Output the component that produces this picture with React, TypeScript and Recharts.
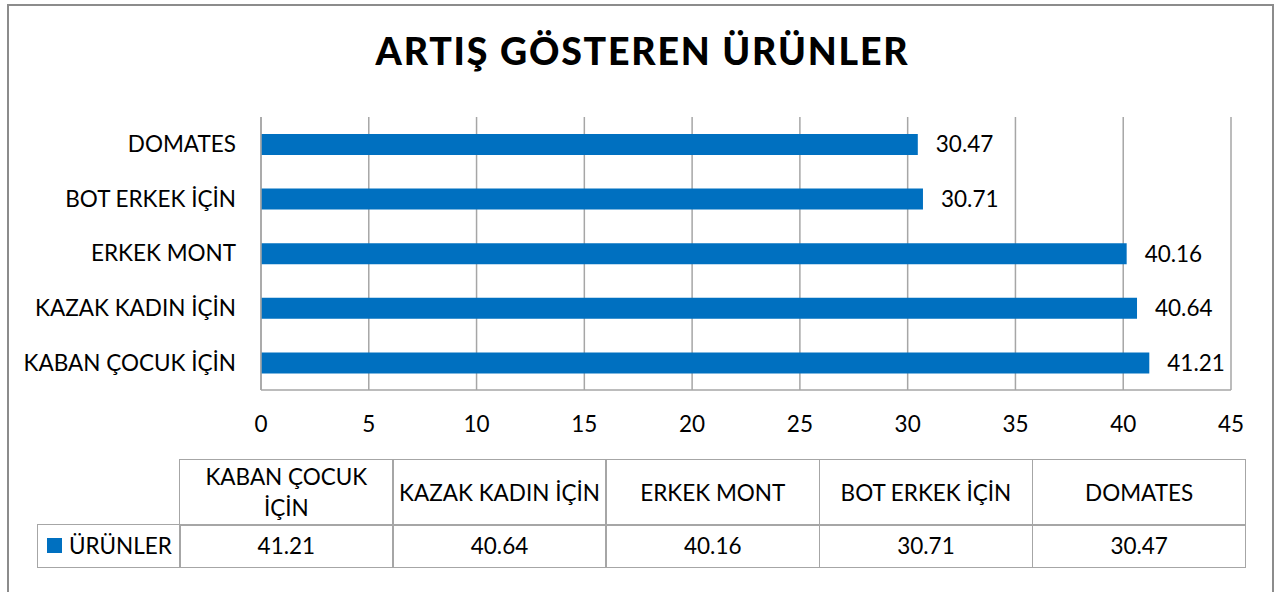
import React from "react";
import { BarChart, Bar, XAxis, YAxis, CartesianGrid, LabelList } from "recharts";

const categories = ["KABAN ÇOCUK İÇİN", "KAZAK KADIN İÇİN", "ERKEK MONT", "BOT ERKEK İÇİN", "DOMATES"];
const values = [41.21, 40.64, 40.16, 30.71, 30.47];
const tableHeaders = ["KABAN ÇOCUK\nİÇİN", "KAZAK KADIN İÇİN", "ERKEK MONT", "BOT ERKEK İÇİN", "DOMATES"];
const xTicks = [0, 5, 10, 15, 20, 25, 30, 35, 40, 45];
const seriesName = "ÜRÜNLER";
const title = "ARTIŞ GÖSTEREN ÜRÜNLER";

const data = categories.map((c, i) => ({ name: c, value: values[i] }));

const FONT = "Lato, 'Open Sans', sans-serif";
const BLUE = "#0070C0";
const GRID = "#a6a6a6";
const FS = 22.5;

const tableLeft = 179;
const colW = 213.2;
const headTop = 459;
const rowTop = 524;
const rowBottom = 566;
const legendLeft = 37;

export default function App() {
  const cellBase: React.CSSProperties = {
    position: "absolute",
    boxSizing: "border-box",
    display: "flex",
    alignItems: "center",
    justifyContent: "center",
    textAlign: "center",
    fontFamily: FONT,
    fontSize: FS,
    color: "#000",
    lineHeight: "31px",
    whiteSpace: "pre-line",
  };
  return (
    <div style={{ position: "absolute", left: 0, top: 0, width: 1285, height: 592, overflow: "hidden", background: "#fff" }}>
      <div style={{ position: "absolute", left: 7, top: 4, width: 1267, height: 620, border: "2px solid #8c8c8c", boxSizing: "border-box" }} />
      <div style={{ position: "absolute", left: 0, top: 27, width: 1285, textAlign: "center", fontFamily: FONT, fontWeight: 900, fontSize: 37.5, letterSpacing: 1.8, lineHeight: "48px", color: "#000" }}>
        {title}
      </div>
      <div style={{ position: "absolute", left: 0, top: 0 }}>
        <BarChart
          width={1285}
          height={592}
          data={data}
          layout="vertical"
          margin={{ top: 117, right: 54, bottom: 142, left: 8 }}
          barSize={21}
        >
          <CartesianGrid vertical={true} horizontal={false} stroke={GRID} strokeWidth={1.5} />
          <XAxis
            type="number"
            domain={[0, 45]}
            ticks={xTicks}
            interval={0}
            height={60}
            tickLine={false}
            tickSize={0}
            tickMargin={26}
            axisLine={{ stroke: GRID, strokeWidth: 1.5 }}
            tick={{ fill: "#000", fontSize: FS, fontFamily: FONT }}
          />
          <YAxis
            type="category"
            dataKey="name"
            reversed
            width={253}
            tickLine={false}
            tickSize={0}
            tickMargin={25}
            axisLine={{ stroke: GRID, strokeWidth: 1.5 }}
            tick={{ fill: "#000", fontSize: FS, fontFamily: FONT }}
            interval={0}
          />
          <Bar dataKey="value" fill={BLUE} isAnimationActive={false}>
            <LabelList dataKey="value" position="right" offset={18} fill="#000" fontSize={FS} fontFamily={FONT} formatter={(v: any) => Number(v).toFixed(2)} />
          </Bar>
        </BarChart>
      </div>
      {tableHeaders.map((h, i) => (
        <div
          key={"h" + i}
          style={{
            ...cellBase,
            left: tableLeft + i * colW,
            top: headTop,
            width: colW + 1.5,
            height: rowTop - headTop + 1.5,
            border: `1.5px solid ${GRID}`,
          }}
        >
          {h}
        </div>
      ))}
      {values.map((v, i) => (
        <div
          key={"v" + i}
          style={{
            ...cellBase,
            left: tableLeft + i * colW,
            top: rowTop,
            width: colW + 1.5,
            height: rowBottom - rowTop + 1.5,
            border: `1.5px solid ${GRID}`,
          }}
        >
          {v.toFixed(2)}
        </div>
      ))}
      <div
        style={{
          ...cellBase,
          left: legendLeft,
          top: rowTop,
          width: tableLeft - legendLeft + 1.5,
          height: rowBottom - rowTop + 1.5,
          border: `1.5px solid ${GRID}`,
          justifyContent: "flex-start",
          paddingLeft: 9,
        }}
      >
        <span style={{ display: "inline-block", width: 15, height: 15, background: BLUE, marginRight: 7 }} />
        {seriesName}
      </div>
    </div>
  );
}
